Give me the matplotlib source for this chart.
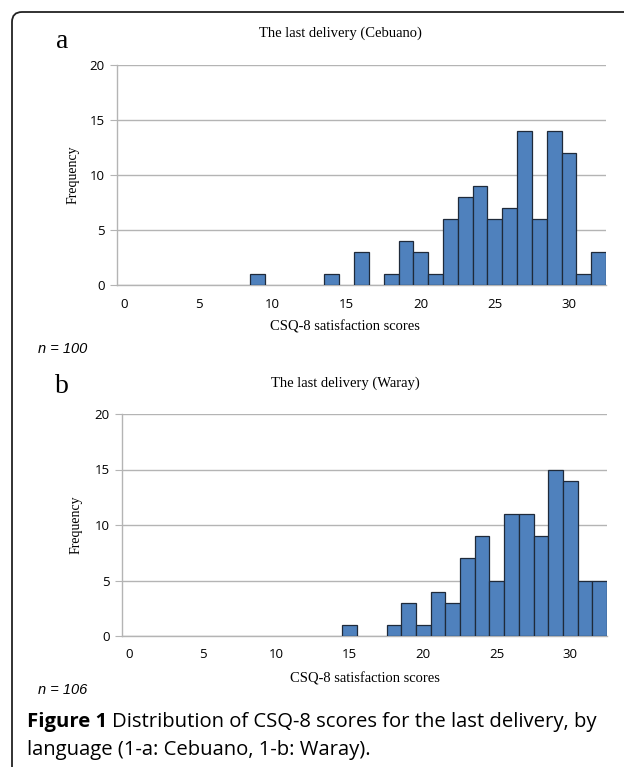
import numpy as np
import matplotlib
matplotlib.use("Agg")
import matplotlib.pyplot as plt
from matplotlib.patches import FancyBboxPatch

# scores and counts
cebuano_scores = [9, 14, 16, 18, 19, 20, 21, 22, 23, 24, 25, 26, 27, 28, 29, 30, 31, 32]
cebuano_counts = [1, 1, 3, 1, 4, 3, 1, 6, 8, 9, 6, 7, 14, 6, 14, 12, 1, 3]
waray_scores = [15, 18, 19, 20, 21, 22, 23, 24, 25, 26, 27, 28, 29, 30, 31, 32]
waray_counts = [1, 1, 3, 1, 4, 3, 7, 9, 5, 11, 11, 9, 15, 14, 5, 5]
x_ticks = [0, 5, 10, 15, 20, 25, 30]
y_ticks = [0, 5, 10, 15, 20]

W, H = 624, 767
fig = plt.figure(figsize=(W / 100, H / 100), dpi=100)

def px_axes(left, top, right, bottom):
    return fig.add_axes([left / W, 1 - bottom / H, (right - left) / W, (bottom - top) / H])

def ptext(x, y, s, **kw):
    return fig.text(x / W, 1 - y / H, s, **kw)

# rounded frame round the figure (inches, origin bottom-left)
frame = FancyBboxPatch((0.12, -0.3), 6.5, 7.85, boxstyle="round,pad=0,rounding_size=0.1",
                       transform=fig.dpi_scale_trans, fill=False, lw=1.3, ec="#222222")
fig.patches.append(frame)

serif = ["Liberation Serif", "DejaVu Serif"]

def hist_panel(ax, scores, counts):
    ax.bar(scores, counts, width=1.0, color="#4F81BD", edgecolor="#1F2A3A", lw=0.9, zorder=3)
    ax.set_xlim(-0.5, 32.5)
    ax.set_ylim(0, 20)
    ax.set_yticks(y_ticks)
    ax.set_xticks(x_ticks)
    ax.grid(axis="y", color="#B4B4B4", lw=1.0, zorder=0)
    for s in ["top", "right"]:
        ax.spines[s].set_visible(False)
    for s in ["left", "bottom"]:
        ax.spines[s].set_color("#B4B4B4")
        ax.spines[s].set_linewidth(1.0)
    ax.tick_params(axis="y", length=5, color="#B4B4B4", pad=4)
    ax.tick_params(axis="x", length=0, pad=9)
    for lab in ax.get_xticklabels() + ax.get_yticklabels():
        lab.set_fontfamily("Open Sans")
        lab.set_fontsize(9.5)

ax1 = px_axes(117, 65, 606, 285)
hist_panel(ax1, cebuano_scores, cebuano_counts)
ax2 = px_axes(122, 414, 607, 636)
hist_panel(ax2, waray_scores, waray_counts)

# panel texts
ptext(62, 42, "a", family=serif, size=20, ha="center", va="center")
ptext(340, 33, "The last delivery (Cebuano)", family=serif, size=10.5, ha="center", va="center")
ptext(73, 175, "Frequency", family=serif, size=10, rotation=90, ha="center", va="center")
ptext(345, 327, "CSQ-8 satisfaction scores", family=serif, size=10.5, ha="center", va="center")
ptext(38, 349, "n = 100", family="Liberation Sans", style="italic", size=10.5, ha="left", va="center")

ptext(62, 387, "b", family=serif, size=20, ha="center", va="center")
ptext(345, 383, "The last delivery (Waray)", family=serif, size=10.5, ha="center", va="center")
ptext(76, 525, "Frequency", family=serif, size=10, rotation=90, ha="center", va="center")
ptext(365, 679, "CSQ-8 satisfaction scores", family=serif, size=10.5, ha="center", va="center")
ptext(38, 690, "n = 106", family="Liberation Sans", style="italic", size=10.5, ha="left", va="center")

# caption
cap = 14.6
cap1 = ptext(27, 722, "Figure 1", family="Open Sans", weight="bold", size=cap, ha="left", va="center")
ptext(27, 750, "language (1-a: Cebuano, 1-b: Waray).", family="Open Sans", size=cap,
      ha="left", va="center")

fig.canvas.draw()
bb = cap1.get_window_extent()
ptext(bb.x1 + 5, 722, "Distribution of CSQ-8 scores for the last delivery, by",
      family="Open Sans", size=cap, ha="left", va="center")

fig.savefig("out.png", dpi=100)
